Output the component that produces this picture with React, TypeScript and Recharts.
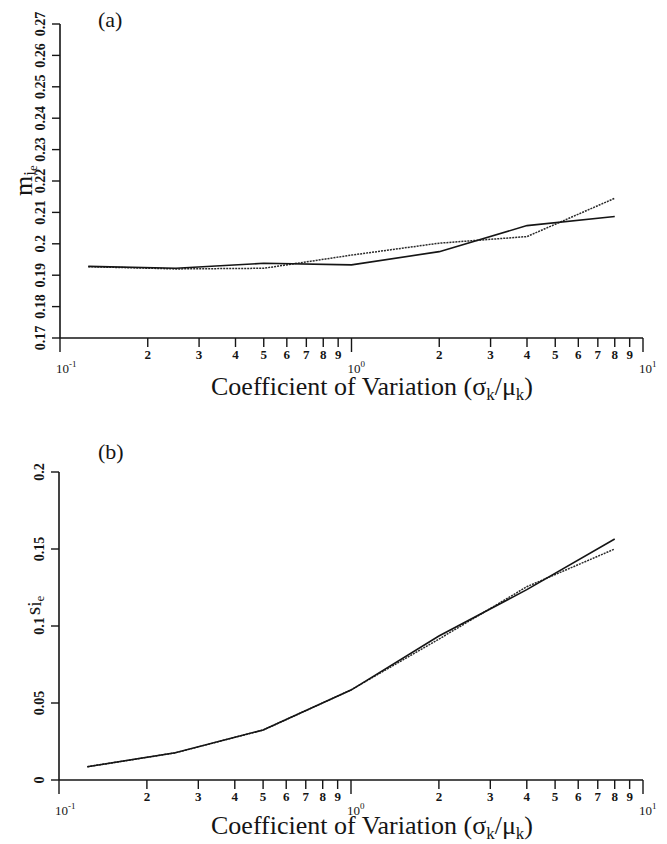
import { LineChart, Line, XAxis, YAxis } from 'recharts'

// coefficient of variation (sigma_k / mu_k), log scale
const cv = [0.125, 0.25, 0.5, 1, 2, 4, 8]

// panel (a): m_ie
const meanSolid = [0.1928, 0.1922, 0.1938, 0.1933, 0.1975, 0.2058, 0.2087]
const meanDotted = [0.1927, 0.192, 0.1922, 0.1964, 0.2002, 0.2023, 0.2145]

// panel (b): s_ie
const sdSolid = [0.0086, 0.0177, 0.0325, 0.0584, 0.0935, 0.1236, 0.1565]
const sdDotted = [0.0086, 0.0176, 0.0324, 0.0585, 0.0915, 0.1255, 0.15]

const xTicks = [0.1, 0.2, 0.3, 0.4, 0.5, 0.6, 0.7, 0.8, 0.9, 1, 2, 3, 4, 5, 6, 7, 8, 9, 10]
const meanTicks = [0.17, 0.18, 0.19, 0.2, 0.21, 0.22, 0.23, 0.24, 0.25, 0.26, 0.27]
const sdTicks = [0, 0.05, 0.1, 0.15, 0.2]

const serif = "'Liberation Serif', 'Times New Roman', 'DejaVu Serif', serif"
const ink = '#151515'
const font = { fontFamily: serif }

const meanData = cv.map((x, i) => ({ cv: x, solid: meanSolid[i], dotted: meanDotted[i] }))
const sdData = cv.map((x, i) => ({ cv: x, solid: sdSolid[i], dotted: sdDotted[i] }))

function XTick({ x, y, payload }: any) {
  const v = payload.value
  const exp = Math.floor(Math.log10(v) + 1e-9)
  const digit = Math.round(v / Math.pow(10, exp))
  const major = digit === 1
  return (
    <g>
      <line x1={x} y1={y} x2={x} y2={y + (major ? 14 : 9)} stroke={ink} strokeWidth={1.4} />
      {major ? (
        <text x={x - 4} y={y + 35} style={font} fontSize={13} fill={ink}>
          10
          <tspan dy={-6} fontSize={9}>
            {exp}
          </tspan>
        </text>
      ) : (
        <text x={x} y={y + 21} textAnchor="middle" style={font} fontSize={13} fontWeight="bold" fill={ink}>
          {digit}
        </text>
      )}
    </g>
  )
}

function YTick({ x, y, payload }: any) {
  const tx = x - 15
  return (
    <g>
      <line x1={x} y1={y} x2={x - 8} y2={y} stroke={ink} strokeWidth={1.4} />
      <text
        x={tx}
        y={y}
        transform={`rotate(-90, ${tx}, ${y})`}
        textAnchor="middle"
        style={font}
        fontSize={14}
        fontWeight="bold"
        fill={ink}
      >
        {String(payload.value)}
      </text>
    </g>
  )
}

function Panel({ data, ticks, domain, top, height, marginTop, yWidth, xHeight }: any) {
  return (
    <div style={{ position: 'absolute', left: 0, top }}>
      <LineChart width={667} height={height} data={data} margin={{ top: marginTop, right: 667 - 643, bottom: 0, left: 0 }}>
        <XAxis
          dataKey="cv"
          type="number"
          scale="log"
          domain={[0.1, 10]}
          ticks={xTicks}
          allowDataOverflow
          interval={0}
          height={xHeight}
          tickSize={0}
          tickMargin={0}
          tickLine={false}
          tick={<XTick />}
          axisLine={{ stroke: ink, strokeWidth: 1.6 }}
        />
        <YAxis
          type="number"
          domain={domain}
          ticks={ticks}
          interval={0}
          width={yWidth}
          tickSize={0}
          tickMargin={0}
          tickLine={false}
          tick={<YTick />}
          axisLine={{ stroke: ink, strokeWidth: 1.6 }}
        />
        <Line type="linear" dataKey="dotted" stroke="#2a2a2a" strokeWidth={1.5} strokeDasharray="2 1" dot={false} isAnimationActive={false} />
        <Line type="linear" dataKey="solid" stroke={ink} strokeWidth={1.6} dot={false} isAnimationActive={false} />
      </LineChart>
    </div>
  )
}

function XTitle({ y }: { y: number }) {
  return (
    <text x={372} y={y} textAnchor="middle" style={font} fontSize={26} fill={ink}>
      Coefficient of Variation (σ
      <tspan dy={5} fontSize={17}>
        k
      </tspan>
      <tspan dy={-5}>/μ</tspan>
      <tspan dy={5} fontSize={17}>
        k
      </tspan>
      <tspan dy={-5}>)</tspan>
    </text>
  )
}

export default function App() {
  return (
    <div style={{ position: 'absolute', left: 0, top: 0, width: 667, height: 844, background: '#fff' }}>
      <Panel data={meanData} ticks={meanTicks} domain={[0.17, 0.27]} top={0} height={420} marginTop={24} yWidth={60} xHeight={82} />
      <Panel data={sdData} ticks={sdTicks} domain={[0, 0.2]} top={420} height={424} marginTop={52} yWidth={59} xHeight={64} />
      <svg width={667} height={844} style={{ position: 'absolute', left: 0, top: 0, pointerEvents: 'none' }}>
        <text x={98} y={27} style={font} fontSize={22} fill={ink}>
          (a)
        </text>
        <text x={98} y={459} style={font} fontSize={22} fill={ink}>
          (b)
        </text>
        <text x={32} y={196} transform="rotate(-90, 32, 196)" style={font} fontSize={26} fill={ink}>
          m
          <tspan dy={3} fontSize={17}>
            i
          </tspan>
          <tspan dy={2} fontSize={13}>
            e
          </tspan>
        </text>
        <text x={40} y={615} transform="rotate(-90, 40, 615)" style={font} fontSize={21} fill={ink}>
          s
          <tspan dy={1} fontSize={19}>
            i
          </tspan>
          <tspan dy={3} fontSize={13}>
            e
          </tspan>
        </text>
        <XTitle y={395} />
        <XTitle y={834} />
      </svg>
    </div>
  )
}
